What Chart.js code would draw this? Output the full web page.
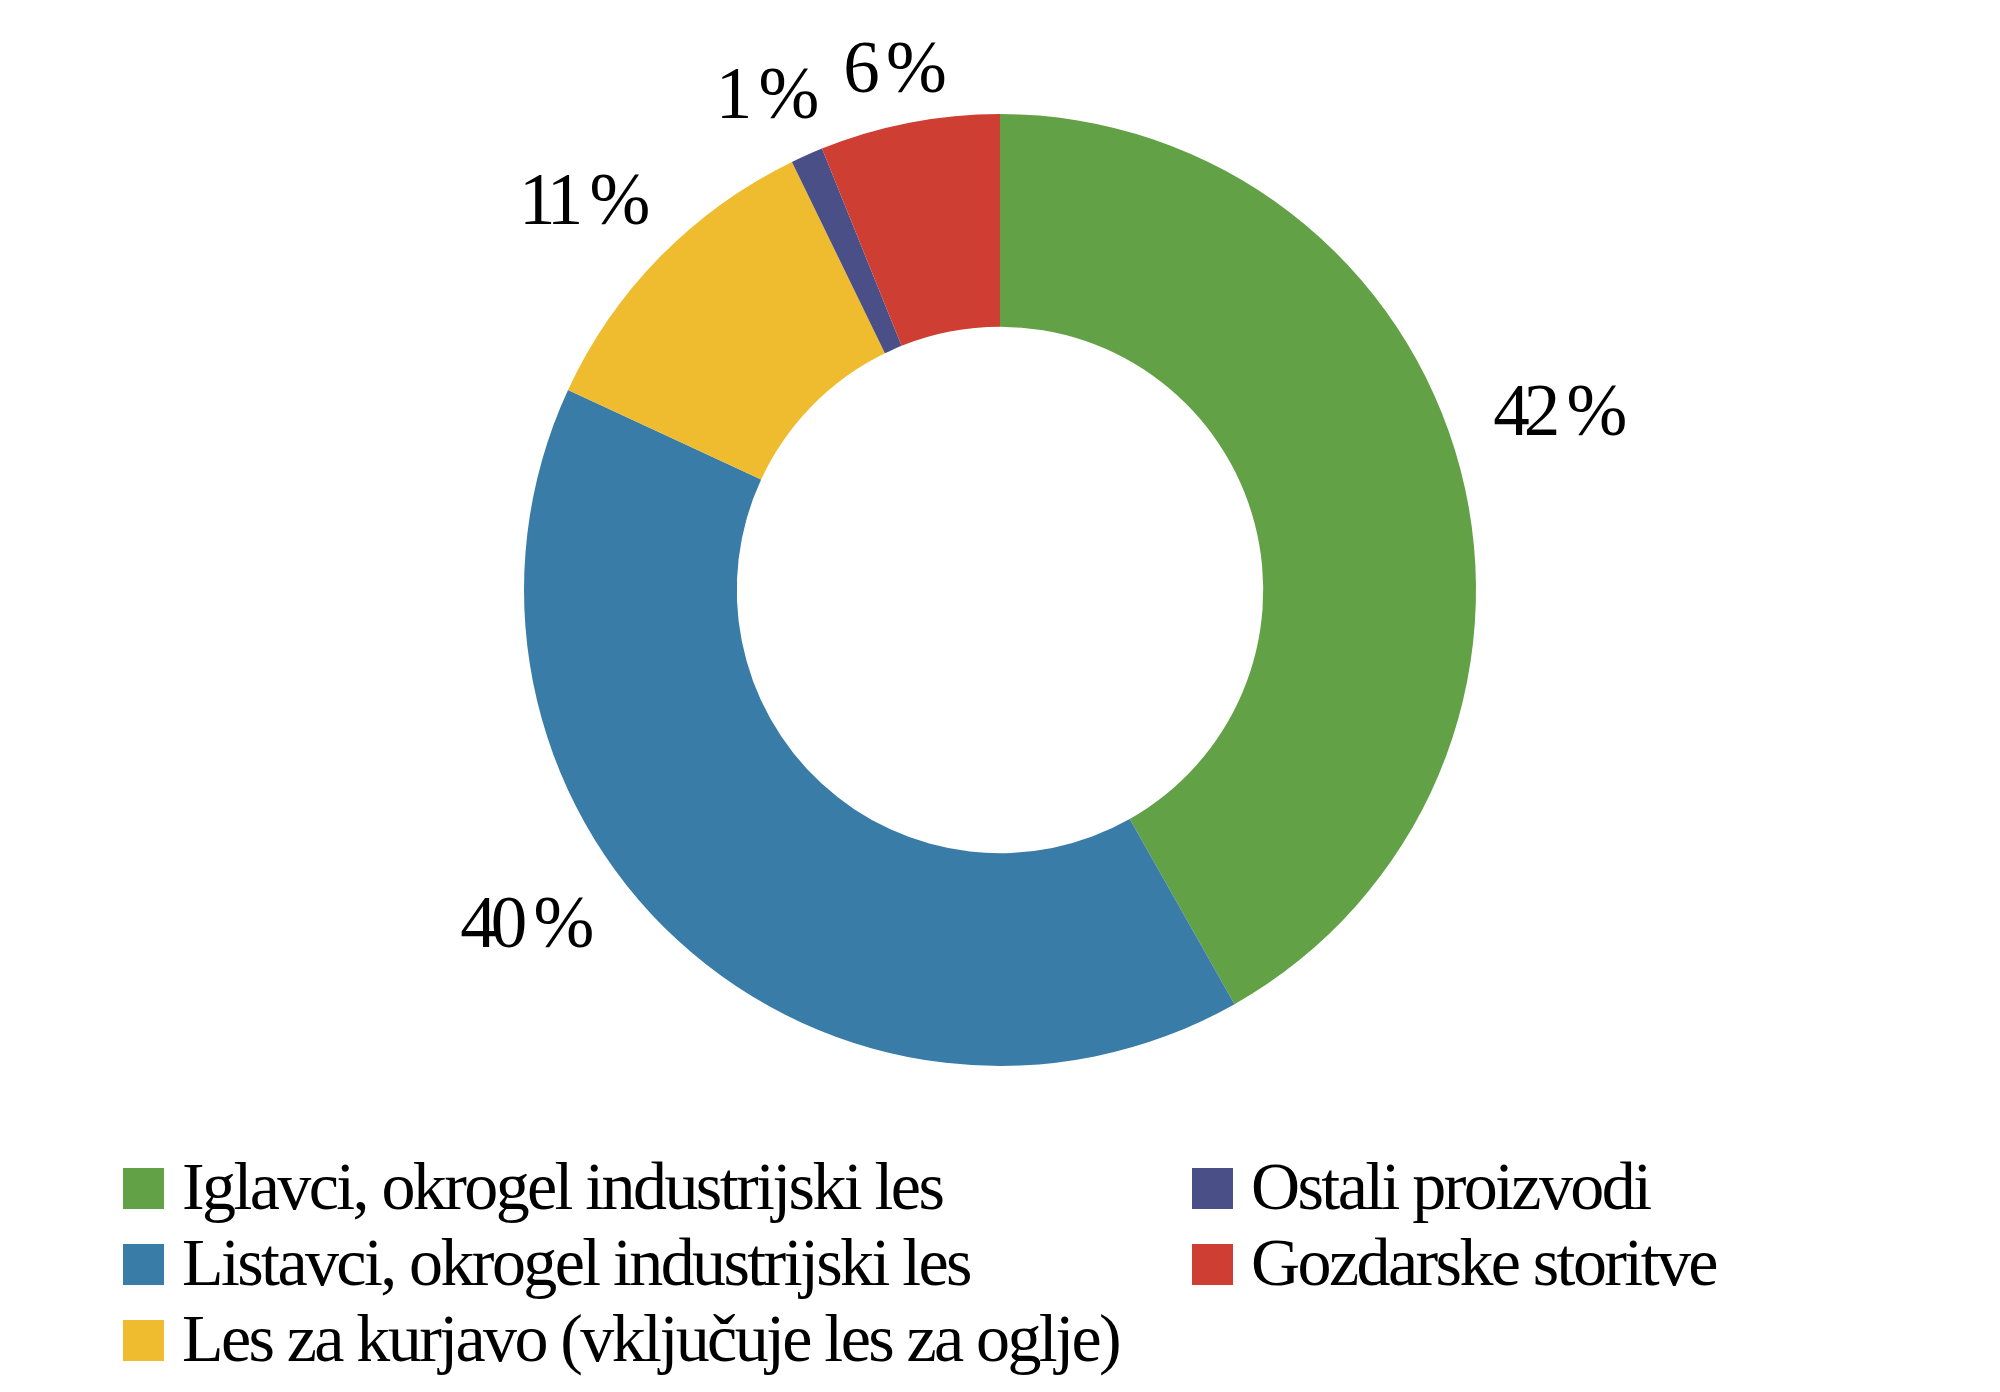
<!DOCTYPE html>
<html>
<head>
<meta charset="utf-8">
<script src="https://cdn.jsdelivr.net/npm/chart.js@4/dist/chart.umd.min.js"></script>
<style>
    html, body { margin: 0; padding: 0; background: #fff; }
    #wrap { position: relative; width: 2000px; height: 1392px; }
    #chartDelez { position: absolute; left: 0; top: 0; }
    #legenda {
        position: absolute; left: 123px; top: 1148px;
        display: grid;
        grid-template-columns: 1069px auto;
        grid-template-rows: repeat(3, 76px);
        grid-auto-flow: column;
        font-family: 'Liberation Serif', 'DejaVu Serif', serif;
        font-size: 68px; line-height: 76px; letter-spacing: -2.6px;
        color: #000;
    }
    .item { display: flex; align-items: baseline; white-space: nowrap; }
    .box { display: inline-block; width: 41px; height: 41px; margin-right: 18px; flex: none; }
</style>
</head>
<body>
<div id="wrap">
    <canvas id="chartDelez" width="2000" height="1392"></canvas>
    <div id="legenda"></div>
</div>
<script>
const kategorije = [
    "Iglavci, okrogel industrijski les",
    "Listavci, okrogel industrijski les",
    "Les za kurjavo (vključuje les za oglje)",
    "Ostali proizvodi",
    "Gozdarske storitve"
];
const deleži = [41.8, 40.1, 10.9, 1.1, 6.1];
const barve = ['#63a146', '#3a7ca8', '#efbb2f', '#4a5087', '#ce3e32'];

// where each % label sits: angle shift from the slice middle (deg), distance as share of outer radius
const postavitevOznak = [
    { kot: -2.9, r: 1.235 },
    { kot: 12.1, r: 1.216 },
    { kot: -1.3, r: 1.196 },
    { kot: -1.2, r: 1.150 },
    { kot: -0.4, r: 1.117 }
];

const oznakePlugin = {
    id: 'oznake',
    afterDatasetsDraw(chart) {
        const ctx = chart.ctx;
        const meta = chart.getDatasetMeta(0);
        const vsota = deleži.reduce((a, b) => a + b, 0);
        ctx.save();
        ctx.font = "73px 'Liberation Serif', serif";
        ctx.letterSpacing = '-6px';
        ctx.fillStyle = '#000';
        ctx.textAlign = 'center';
        ctx.textBaseline = 'middle';
        meta.data.forEach((arc, i) => {
            const p = arc.getProps(['x', 'y', 'startAngle', 'endAngle', 'outerRadius'], true);
            const kot = (p.startAngle + p.endAngle) / 2 + postavitevOznak[i].kot * Math.PI / 180;
            const r = p.outerRadius * postavitevOznak[i].r;
            const x = p.x + Math.cos(kot) * r;
            const y = p.y + Math.sin(kot) * r;
            ctx.fillText(Math.round(deleži[i] / vsota * 100) + ' %', x - 3, y + 4);
        });
        ctx.restore();
    }
};

new Chart(document.getElementById('chartDelez').getContext('2d'), {
    type: 'doughnut',
    data: {
        labels: kategorije,
        datasets: [{
            data: deleži,
            backgroundColor: barve,
            borderWidth: 0
        }]
    },
    options: {
        responsive: false,
        animation: false,
        cutout: '55.3%',
        layout: { padding: { top: 114, bottom: 326, left: 0, right: 0 } },
        plugins: {
            legend: { display: false },
            tooltip: { enabled: false }
        }
    },
    plugins: [oznakePlugin]
});

const legenda = document.getElementById('legenda');
kategorije.forEach((ime, i) => {
    const el = document.createElement('div');
    el.className = 'item';
    el.innerHTML = '<span class="box" style="background:' + barve[i] + '"></span><span>' + ime + '</span>';
    legenda.appendChild(el);
});
</script>
</body>
</html>
